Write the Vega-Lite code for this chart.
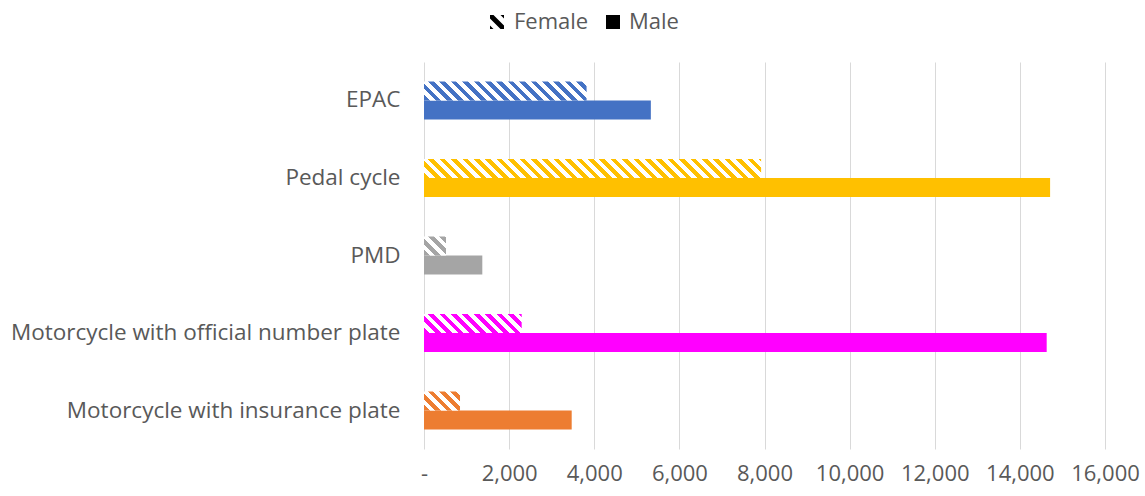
{
"$schema":"https://vega.github.io/schema/vega-lite/v6.json",
"width":681,"height":387,
"autosize":{"type":"none"},
"padding":{"left":424,"top":62,"right":40,"bottom":47},
"background":"#ffffff",
"config":{"view":{"stroke":null},"font":"Open Sans","axis":{"labelFont":"Open Sans","labelFontSize":22,"labelColor":"#595959"},"legend":{"labelFont":"Open Sans"}},
"data":{"values":[
{"category":"EPAC","sex":"Female","value":3820},
{"category":"EPAC","sex":"Male","value":5330},
{"category":"Pedal cycle","sex":"Female","value":7920},
{"category":"Pedal cycle","sex":"Male","value":14710},
{"category":"PMD","sex":"Female","value":517},
{"category":"PMD","sex":"Male","value":1370},
{"category":"Motorcycle with official number plate","sex":"Female","value":2295},
{"category":"Motorcycle with official number plate","sex":"Male","value":14630},
{"category":"Motorcycle with insurance plate","sex":"Female","value":846},
{"category":"Motorcycle with insurance plate","sex":"Male","value":3470}
]},
"encoding":{
"x":{"field":"value","type":"quantitative","scale":{"domain":[0,16000],"nice":false},"axis":{"title":null,"values":[0,2000,4000,6000,8000,10000,12000,14000,16000],"labelExpr":"datum.value === 0 ? '-' : format(datum.value, ',')","labelOverlap":false,"labelFlush":false,"grid":true,"gridColor":"#d9d9d9","gridWidth":1,"domain":false,"ticks":false,"labelPadding":14}},
"y":{"field":"category","type":"nominal","sort":["EPAC","Pedal cycle","PMD","Motorcycle with official number plate","Motorcycle with insurance plate"],"scale":{"paddingInner":0.51,"paddingOuter":0.25},"axis":{"title":null,"domain":false,"ticks":false,"grid":false,"labelPadding":24,"labelLimit":0,"labelFontSize":22.5}},
"yOffset":{"field":"sex","type":"nominal","scale":{"domain":["Female","Male"]}}
},
"layer":[
{"transform":[{"filter":"datum.sex === 'Male'"}],"mark":{"type":"bar"},"encoding":{"color":{"field":"category","type":"nominal","scale":{"domain":["EPAC","Pedal cycle","PMD","Motorcycle with official number plate","Motorcycle with insurance plate"],"range":["#4472C4","#FFC000","#A5A5A5","#FF00FF","#ED7D31"]},"legend":null}}},
{"transform":[{"filter":"datum.category === 'EPAC' && datum.sex === 'Female'"}],"mark":{"type":"bar","fill":{"gradient":"linear","x1":0,"y1":1,"x2":2.2133,"y2":0.74137,"stops":[
{"offset":0,"color":"#4472C4"},{"offset":0.015625,"color":"#4472C4"},{"offset":0.015625,"color":"#FFFFFF"},{"offset":0.03125,"color":"#FFFFFF"},
{"offset":0.03125,"color":"#4472C4"},{"offset":0.046875,"color":"#4472C4"},{"offset":0.046875,"color":"#FFFFFF"},{"offset":0.0625,"color":"#FFFFFF"},
{"offset":0.0625,"color":"#4472C4"},{"offset":0.078125,"color":"#4472C4"},{"offset":0.078125,"color":"#FFFFFF"},{"offset":0.09375,"color":"#FFFFFF"},
{"offset":0.09375,"color":"#4472C4"},{"offset":0.109375,"color":"#4472C4"},{"offset":0.109375,"color":"#FFFFFF"},{"offset":0.125,"color":"#FFFFFF"},
{"offset":0.125,"color":"#4472C4"},{"offset":0.140625,"color":"#4472C4"},{"offset":0.140625,"color":"#FFFFFF"},{"offset":0.15625,"color":"#FFFFFF"},
{"offset":0.15625,"color":"#4472C4"},{"offset":0.171875,"color":"#4472C4"},{"offset":0.171875,"color":"#FFFFFF"},{"offset":0.1875,"color":"#FFFFFF"},
{"offset":0.1875,"color":"#4472C4"},{"offset":0.203125,"color":"#4472C4"},{"offset":0.203125,"color":"#FFFFFF"},{"offset":0.21875,"color":"#FFFFFF"},
{"offset":0.21875,"color":"#4472C4"},{"offset":0.234375,"color":"#4472C4"},{"offset":0.234375,"color":"#FFFFFF"},{"offset":0.25,"color":"#FFFFFF"},
{"offset":0.25,"color":"#4472C4"},{"offset":0.265625,"color":"#4472C4"},{"offset":0.265625,"color":"#FFFFFF"},{"offset":0.28125,"color":"#FFFFFF"},
{"offset":0.28125,"color":"#4472C4"},{"offset":0.296875,"color":"#4472C4"},{"offset":0.296875,"color":"#FFFFFF"},{"offset":0.3125,"color":"#FFFFFF"},
{"offset":0.3125,"color":"#4472C4"},{"offset":0.328125,"color":"#4472C4"},{"offset":0.328125,"color":"#FFFFFF"},{"offset":0.34375,"color":"#FFFFFF"},
{"offset":0.34375,"color":"#4472C4"},{"offset":0.359375,"color":"#4472C4"},{"offset":0.359375,"color":"#FFFFFF"},{"offset":0.375,"color":"#FFFFFF"},
{"offset":0.375,"color":"#4472C4"},{"offset":0.390625,"color":"#4472C4"},{"offset":0.390625,"color":"#FFFFFF"},{"offset":0.40625,"color":"#FFFFFF"},
{"offset":0.40625,"color":"#4472C4"},{"offset":0.421875,"color":"#4472C4"},{"offset":0.421875,"color":"#FFFFFF"},{"offset":0.4375,"color":"#FFFFFF"},
{"offset":0.4375,"color":"#4472C4"},{"offset":0.453125,"color":"#4472C4"},{"offset":0.453125,"color":"#FFFFFF"},{"offset":0.46875,"color":"#FFFFFF"},
{"offset":0.46875,"color":"#4472C4"},{"offset":0.484375,"color":"#4472C4"},{"offset":0.484375,"color":"#FFFFFF"},{"offset":0.5,"color":"#FFFFFF"},
{"offset":0.5,"color":"#4472C4"},{"offset":0.515625,"color":"#4472C4"},{"offset":0.515625,"color":"#FFFFFF"},{"offset":0.53125,"color":"#FFFFFF"}
]}}},
{"transform":[{"filter":"datum.category === 'Pedal cycle' && datum.sex === 'Female'"}],"mark":{"type":"bar","fill":{"gradient":"linear","x1":0,"y1":1,"x2":1.07875,"y2":0.939199,"stops":[
{"offset":0,"color":"#FFC000"},{"offset":0.015625,"color":"#FFC000"},{"offset":0.015625,"color":"#FFFFFF"},{"offset":0.03125,"color":"#FFFFFF"},
{"offset":0.03125,"color":"#FFC000"},{"offset":0.046875,"color":"#FFC000"},{"offset":0.046875,"color":"#FFFFFF"},{"offset":0.0625,"color":"#FFFFFF"},
{"offset":0.0625,"color":"#FFC000"},{"offset":0.078125,"color":"#FFC000"},{"offset":0.078125,"color":"#FFFFFF"},{"offset":0.09375,"color":"#FFFFFF"},
{"offset":0.09375,"color":"#FFC000"},{"offset":0.109375,"color":"#FFC000"},{"offset":0.109375,"color":"#FFFFFF"},{"offset":0.125,"color":"#FFFFFF"},
{"offset":0.125,"color":"#FFC000"},{"offset":0.140625,"color":"#FFC000"},{"offset":0.140625,"color":"#FFFFFF"},{"offset":0.15625,"color":"#FFFFFF"},
{"offset":0.15625,"color":"#FFC000"},{"offset":0.171875,"color":"#FFC000"},{"offset":0.171875,"color":"#FFFFFF"},{"offset":0.1875,"color":"#FFFFFF"},
{"offset":0.1875,"color":"#FFC000"},{"offset":0.203125,"color":"#FFC000"},{"offset":0.203125,"color":"#FFFFFF"},{"offset":0.21875,"color":"#FFFFFF"},
{"offset":0.21875,"color":"#FFC000"},{"offset":0.234375,"color":"#FFC000"},{"offset":0.234375,"color":"#FFFFFF"},{"offset":0.25,"color":"#FFFFFF"},
{"offset":0.25,"color":"#FFC000"},{"offset":0.265625,"color":"#FFC000"},{"offset":0.265625,"color":"#FFFFFF"},{"offset":0.28125,"color":"#FFFFFF"},
{"offset":0.28125,"color":"#FFC000"},{"offset":0.296875,"color":"#FFC000"},{"offset":0.296875,"color":"#FFFFFF"},{"offset":0.3125,"color":"#FFFFFF"},
{"offset":0.3125,"color":"#FFC000"},{"offset":0.328125,"color":"#FFC000"},{"offset":0.328125,"color":"#FFFFFF"},{"offset":0.34375,"color":"#FFFFFF"},
{"offset":0.34375,"color":"#FFC000"},{"offset":0.359375,"color":"#FFC000"},{"offset":0.359375,"color":"#FFFFFF"},{"offset":0.375,"color":"#FFFFFF"},
{"offset":0.375,"color":"#FFC000"},{"offset":0.390625,"color":"#FFC000"},{"offset":0.390625,"color":"#FFFFFF"},{"offset":0.40625,"color":"#FFFFFF"},
{"offset":0.40625,"color":"#FFC000"},{"offset":0.421875,"color":"#FFC000"},{"offset":0.421875,"color":"#FFFFFF"},{"offset":0.4375,"color":"#FFFFFF"},
{"offset":0.4375,"color":"#FFC000"},{"offset":0.453125,"color":"#FFC000"},{"offset":0.453125,"color":"#FFFFFF"},{"offset":0.46875,"color":"#FFFFFF"},
{"offset":0.46875,"color":"#FFC000"},{"offset":0.484375,"color":"#FFC000"},{"offset":0.484375,"color":"#FFFFFF"},{"offset":0.5,"color":"#FFFFFF"},
{"offset":0.5,"color":"#FFC000"},{"offset":0.515625,"color":"#FFC000"},{"offset":0.515625,"color":"#FFFFFF"},{"offset":0.53125,"color":"#FFFFFF"},
{"offset":0.53125,"color":"#FFC000"},{"offset":0.546875,"color":"#FFC000"},{"offset":0.546875,"color":"#FFFFFF"},{"offset":0.5625,"color":"#FFFFFF"},
{"offset":0.5625,"color":"#FFC000"},{"offset":0.578125,"color":"#FFC000"},{"offset":0.578125,"color":"#FFFFFF"},{"offset":0.59375,"color":"#FFFFFF"},
{"offset":0.59375,"color":"#FFC000"},{"offset":0.609375,"color":"#FFC000"},{"offset":0.609375,"color":"#FFFFFF"},{"offset":0.625,"color":"#FFFFFF"},
{"offset":0.625,"color":"#FFC000"},{"offset":0.640625,"color":"#FFC000"},{"offset":0.640625,"color":"#FFFFFF"},{"offset":0.65625,"color":"#FFFFFF"},
{"offset":0.65625,"color":"#FFC000"},{"offset":0.671875,"color":"#FFC000"},{"offset":0.671875,"color":"#FFFFFF"},{"offset":0.6875,"color":"#FFFFFF"},
{"offset":0.6875,"color":"#FFC000"},{"offset":0.703125,"color":"#FFC000"},{"offset":0.703125,"color":"#FFFFFF"},{"offset":0.71875,"color":"#FFFFFF"},
{"offset":0.71875,"color":"#FFC000"},{"offset":0.734375,"color":"#FFC000"},{"offset":0.734375,"color":"#FFFFFF"},{"offset":0.75,"color":"#FFFFFF"},
{"offset":0.75,"color":"#FFC000"},{"offset":0.765625,"color":"#FFC000"},{"offset":0.765625,"color":"#FFFFFF"},{"offset":0.78125,"color":"#FFFFFF"},
{"offset":0.78125,"color":"#FFC000"},{"offset":0.796875,"color":"#FFC000"},{"offset":0.796875,"color":"#FFFFFF"},{"offset":0.8125,"color":"#FFFFFF"},
{"offset":0.8125,"color":"#FFC000"},{"offset":0.828125,"color":"#FFC000"},{"offset":0.828125,"color":"#FFFFFF"},{"offset":0.84375,"color":"#FFFFFF"},
{"offset":0.84375,"color":"#FFC000"},{"offset":0.859375,"color":"#FFC000"},{"offset":0.859375,"color":"#FFFFFF"},{"offset":0.875,"color":"#FFFFFF"},
{"offset":0.875,"color":"#FFC000"},{"offset":0.890625,"color":"#FFC000"},{"offset":0.890625,"color":"#FFFFFF"},{"offset":0.90625,"color":"#FFFFFF"},
{"offset":0.90625,"color":"#FFC000"},{"offset":0.921875,"color":"#FFC000"},{"offset":0.921875,"color":"#FFFFFF"},{"offset":0.9375,"color":"#FFFFFF"},
{"offset":0.9375,"color":"#FFC000"},{"offset":0.953125,"color":"#FFC000"},{"offset":0.953125,"color":"#FFFFFF"},{"offset":0.96875,"color":"#FFFFFF"},
{"offset":0.96875,"color":"#FFC000"},{"offset":0.984375,"color":"#FFC000"},{"offset":0.984375,"color":"#FFFFFF"},{"offset":1,"color":"#FFFFFF"}
]}}},
{"transform":[{"filter":"datum.category === 'PMD' && datum.sex === 'Female'"}],"mark":{"type":"bar","fill":{"gradient":"linear","x1":0,"y1":1,"x2":9.4978,"y2":-7.2026,"stops":[
{"offset":0,"color":"#A5A5A5"},{"offset":0.015625,"color":"#A5A5A5"},{"offset":0.015625,"color":"#FFFFFF"},{"offset":0.03125,"color":"#FFFFFF"},
{"offset":0.03125,"color":"#A5A5A5"},{"offset":0.046875,"color":"#A5A5A5"},{"offset":0.046875,"color":"#FFFFFF"},{"offset":0.0625,"color":"#FFFFFF"},
{"offset":0.0625,"color":"#A5A5A5"},{"offset":0.078125,"color":"#A5A5A5"},{"offset":0.078125,"color":"#FFFFFF"},{"offset":0.09375,"color":"#FFFFFF"},
{"offset":0.09375,"color":"#A5A5A5"},{"offset":0.109375,"color":"#A5A5A5"},{"offset":0.109375,"color":"#FFFFFF"},{"offset":0.125,"color":"#FFFFFF"},
{"offset":0.125,"color":"#A5A5A5"},{"offset":0.140625,"color":"#A5A5A5"},{"offset":0.140625,"color":"#FFFFFF"},{"offset":0.15625,"color":"#FFFFFF"}
]}}},
{"transform":[{"filter":"datum.category === 'Motorcycle with official number plate' && datum.sex === 'Female'"}],"mark":{"type":"bar","fill":{"gradient":"linear","x1":0,"y1":1,"x2":3.5978,"y2":0.30032,"stops":[
{"offset":0,"color":"#FF00FF"},{"offset":0.015625,"color":"#FF00FF"},{"offset":0.015625,"color":"#FFFFFF"},{"offset":0.03125,"color":"#FFFFFF"},
{"offset":0.03125,"color":"#FF00FF"},{"offset":0.046875,"color":"#FF00FF"},{"offset":0.046875,"color":"#FFFFFF"},{"offset":0.0625,"color":"#FFFFFF"},
{"offset":0.0625,"color":"#FF00FF"},{"offset":0.078125,"color":"#FF00FF"},{"offset":0.078125,"color":"#FFFFFF"},{"offset":0.09375,"color":"#FFFFFF"},
{"offset":0.09375,"color":"#FF00FF"},{"offset":0.109375,"color":"#FF00FF"},{"offset":0.109375,"color":"#FFFFFF"},{"offset":0.125,"color":"#FFFFFF"},
{"offset":0.125,"color":"#FF00FF"},{"offset":0.140625,"color":"#FF00FF"},{"offset":0.140625,"color":"#FFFFFF"},{"offset":0.15625,"color":"#FFFFFF"},
{"offset":0.15625,"color":"#FF00FF"},{"offset":0.171875,"color":"#FF00FF"},{"offset":0.171875,"color":"#FFFFFF"},{"offset":0.1875,"color":"#FFFFFF"},
{"offset":0.1875,"color":"#FF00FF"},{"offset":0.203125,"color":"#FF00FF"},{"offset":0.203125,"color":"#FFFFFF"},{"offset":0.21875,"color":"#FFFFFF"},
{"offset":0.21875,"color":"#FF00FF"},{"offset":0.234375,"color":"#FF00FF"},{"offset":0.234375,"color":"#FFFFFF"},{"offset":0.25,"color":"#FFFFFF"},
{"offset":0.25,"color":"#FF00FF"},{"offset":0.265625,"color":"#FF00FF"},{"offset":0.265625,"color":"#FFFFFF"},{"offset":0.28125,"color":"#FFFFFF"},
{"offset":0.28125,"color":"#FF00FF"},{"offset":0.296875,"color":"#FF00FF"},{"offset":0.296875,"color":"#FFFFFF"},{"offset":0.3125,"color":"#FFFFFF"},
{"offset":0.3125,"color":"#FF00FF"},{"offset":0.328125,"color":"#FF00FF"},{"offset":0.328125,"color":"#FFFFFF"},{"offset":0.34375,"color":"#FFFFFF"}
]}}},
{"transform":[{"filter":"datum.category === 'Motorcycle with insurance plate' && datum.sex === 'Female'"}],"mark":{"type":"bar","fill":{"gradient":"linear","x1":0,"y1":1,"x2":7.9257,"y2":-3.183,"stops":[
{"offset":0,"color":"#ED7D31"},{"offset":0.015625,"color":"#ED7D31"},{"offset":0.015625,"color":"#FFFFFF"},{"offset":0.03125,"color":"#FFFFFF"},
{"offset":0.03125,"color":"#ED7D31"},{"offset":0.046875,"color":"#ED7D31"},{"offset":0.046875,"color":"#FFFFFF"},{"offset":0.0625,"color":"#FFFFFF"},
{"offset":0.0625,"color":"#ED7D31"},{"offset":0.078125,"color":"#ED7D31"},{"offset":0.078125,"color":"#FFFFFF"},{"offset":0.09375,"color":"#FFFFFF"},
{"offset":0.09375,"color":"#ED7D31"},{"offset":0.109375,"color":"#ED7D31"},{"offset":0.109375,"color":"#FFFFFF"},{"offset":0.125,"color":"#FFFFFF"},
{"offset":0.125,"color":"#ED7D31"},{"offset":0.140625,"color":"#ED7D31"},{"offset":0.140625,"color":"#FFFFFF"},{"offset":0.15625,"color":"#FFFFFF"},
{"offset":0.15625,"color":"#ED7D31"},{"offset":0.171875,"color":"#ED7D31"},{"offset":0.171875,"color":"#FFFFFF"},{"offset":0.1875,"color":"#FFFFFF"}
]}}},
{"transform":[{"filter":"datum.sex === 'Female'"}],"mark":{"type":"point","filled":true,"opacity":0,"color":"#000000"},"encoding":{"shape":{"field":"sex","type":"nominal","scale":{"domain":["Female"],"range":["M-1,-1L-0.5,-1L1,0.5L1,1L0.5,1L-1,-0.5ZM0.5,-1L1,-1L1,-0.5ZM-1,0.5L-1,1L-0.5,1Z"]},"legend":{"orient":"none","legendX":62,"legendY":-51,"direction":"horizontal","title":null,"symbolSize":196,"labelFontSize":22,"labelColor":"#595959","labelOffset":6,"symbolStrokeWidth":0,"symbolOpacity":1,"symbolFillColor":"#000000"}}}},
{"transform":[{"filter":"datum.sex === 'Male'"}],"mark":{"type":"point","filled":true,"opacity":0,"shape":"square"},"encoding":{"fill":{"field":"sex","type":"nominal","scale":{"domain":["Male"],"range":["#000000"]},"legend":{"orient":"none","legendX":178,"legendY":-51,"direction":"horizontal","title":null,"symbolType":"square","symbolSize":196,"labelFontSize":22,"labelColor":"#595959","labelOffset":5,"symbolStrokeWidth":0,"symbolOpacity":1}}}}
]
}
